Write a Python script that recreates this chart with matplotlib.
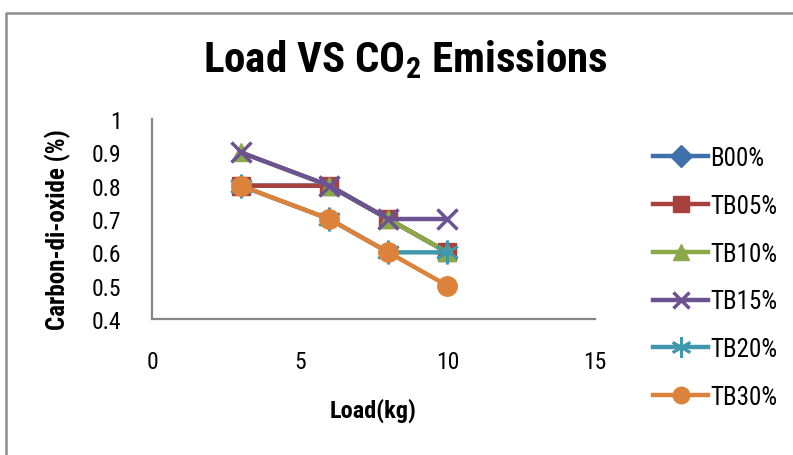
import matplotlib
matplotlib.use("Agg")
import matplotlib.pyplot as plt
from matplotlib.lines import Line2D

plt.rcParams['font.family'] = ['Roboto Condensed', 'DejaVu Sans']
plt.rcParams['mathtext.fontset'] = 'custom'
plt.rcParams['mathtext.rm'] = 'Roboto Condensed'
plt.rcParams['mathtext.bf'] = 'Roboto Condensed:bold'

load = [3, 6, 8, 10]
series_names = ["B00%", "TB05%", "TB10%", "TB15%", "TB20%", "TB30%"]
b00 = [0.8, 0.8, 0.7, 0.6]
tb05 = [0.8, 0.8, 0.7, 0.6]
tb10 = [0.9, 0.8, 0.7, 0.6]
tb15 = [0.9, 0.8, 0.7, 0.7]
tb20 = [0.8, 0.7, 0.6, 0.6]
tb30 = [0.8, 0.7, 0.6, 0.5]
values = [b00, tb05, tb10, tb15, tb20, tb30]
x_ticks = [0, 5, 10, 15]
y_ticks = [0.4, 0.5, 0.6, 0.7, 0.8, 0.9, 1.0]
y_ticklabels = ["0.4", "0.5", "0.6", "0.7", "0.8", "0.9", "1"]

colors = ["#3F70AC", "#A8413E", "#8AAA4A", "#6C5290", "#3F98AE", "#DD823A"]
markers = ["D", "s", "^", "x", (6, 2, 0), "o"]
msizes = [9, 13, 13, 14, 17, 14]
medge = [1, 1, 1, 2.5, 2.0, 1]

fig = plt.figure(figsize=(7.93, 4.56), dpi=100)
ax = fig.add_axes([152/793, 1-320/456, (595-152)/793, 200/456])

for vals, c, m, ms, me in zip(values, colors, markers, msizes, medge):
    ax.plot(load, vals, color=c, lw=3.2, marker=m, markersize=ms,
            markeredgewidth=me, markeredgecolor=c,
            markerfacecolor=c, solid_capstyle='round')

ax.set_xlim(0, 15)
ax.set_ylim(0.4, 1.0)
ax.set_xticks(x_ticks)
ax.set_yticks(y_ticks)
ax.set_yticklabels(y_ticklabels)
ax.tick_params(length=0, labelsize=17)
ax.tick_params(axis='x', pad=22)
ax.tick_params(axis='y', pad=22)
for s in ("top", "right"):
    ax.spines[s].set_visible(False)
for s in ("left", "bottom"):
    ax.spines[s].set_color("#868686")
    ax.spines[s].set_linewidth(1.6)

ax.set_xlabel("Load(kg)", fontsize=17.5, fontweight='bold', labelpad=18)
fig.text(58/793, 1-230/456, "Carbon-di-oxide (%)", rotation=90, fontsize=18,
         fontweight='bold', ha='center', va='center')

fig.text(405/793, 1-60/456, r"Load VS CO$_\mathbf{2}$ Emissions", fontsize=31,
         fontweight='bold', ha='center', va='center')

handles = [Line2D([0], [0], color=c, lw=3.2, marker=m, markersize=max(ms*0.85, 11),
                  markeredgewidth=me, markeredgecolor=c, markerfacecolor=c)
           for c, m, ms, me in zip(colors, markers, msizes, medge)]
fig.legend(handles, series_names, loc='upper left', bbox_to_anchor=(643/793, 1-137/456),
           frameon=False, fontsize=18, handlelength=2.2, handletextpad=0.1,
           labelspacing=0.95, borderaxespad=0)

# outer chart border
fig.add_artist(Line2D([6/793, 6/793, 1.0], [0.0, 1-14/456, 1-14/456],
                      transform=fig.transFigure, color="#8c8c8c", lw=1.8))

fig.savefig("out.png", dpi=100)
